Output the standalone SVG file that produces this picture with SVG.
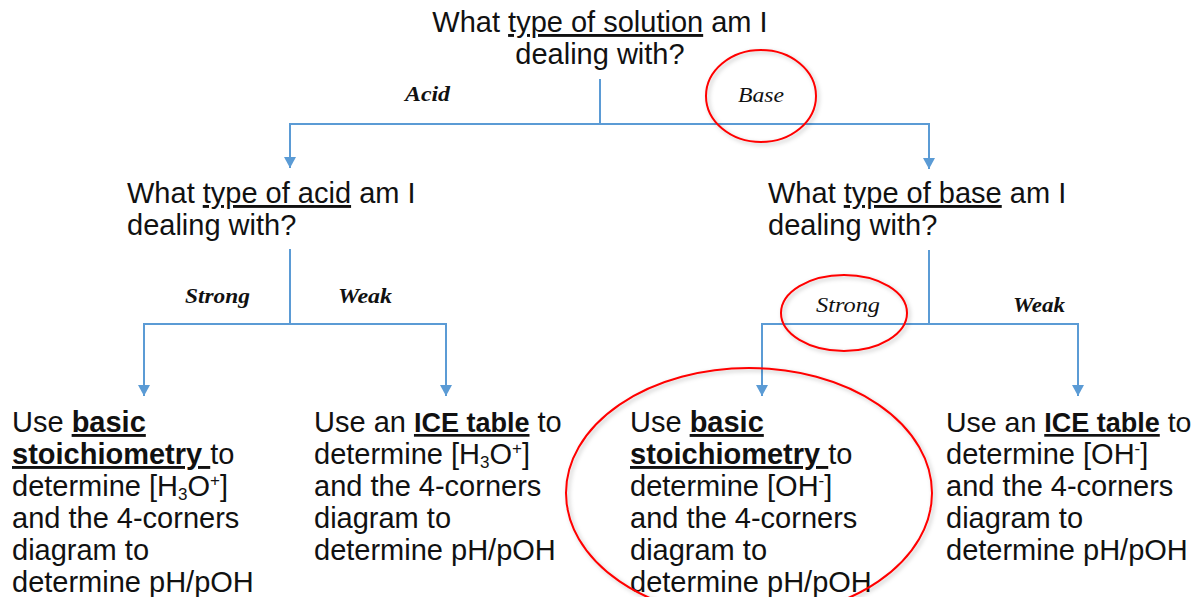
<svg xmlns="http://www.w3.org/2000/svg" width="1195" height="597" viewBox="0 0 1195 597">
<style>
.t{font-family:"Liberation Sans",Arial,sans-serif;font-size:29px;fill:#111}
.b{font-weight:bold;text-decoration:underline}
.bi{font-size:27px}
.u{text-decoration:underline}
.s{font-size:17px}
.lbl{font-family:"Liberation Serif","Times New Roman",serif;font-style:italic;font-size:20px;fill:#111}
.lb{font-weight:bold}
.con{fill:none;stroke:#5B9BD5;stroke-width:2}
.ring{fill:none;stroke:#FF0000;stroke-width:2}
</style>
<defs>
<marker id="ah" markerUnits="userSpaceOnUse" markerWidth="14" markerHeight="14" refX="11" refY="6" orient="auto">
<path d="M0,0 L11,6 L0,12 Z" fill="#5B9BD5"/>
</marker>
<filter id="sh" x="-10%" y="-10%" width="130%" height="130%">
<feDropShadow dx="2" dy="2" stdDeviation="2" flood-color="#000" flood-opacity="0.25"/>
</filter>
</defs>
<rect width="1195" height="597" fill="#fff"/>

<g id="connectors">
<path class="con" d="M600,79 V124"/>
<path class="con" d="M600,124 H290 V168" marker-end="url(#ah)"/>
<path class="con" d="M600,124 H929 V169" marker-end="url(#ah)"/>
<path class="con" d="M290,249 V324"/>
<path class="con" d="M290,324 H144 V396" marker-end="url(#ah)"/>
<path class="con" d="M290,324 H446 V396" marker-end="url(#ah)"/>
<path class="con" d="M929,250 V324"/>
<path class="con" d="M929,324 H762 V396" marker-end="url(#ah)"/>
<path class="con" d="M929,324 H1078 V396" marker-end="url(#ah)"/>
</g>

<g id="q-solution">
<text class="t" x="600" y="32" text-anchor="middle">What <tspan class="u">type of solution</tspan> am I</text>
<text class="t" x="600" y="64" text-anchor="middle">dealing with?</text>
</g>

<g id="lbl-acid"><text class="lbl lb" x="405" y="101" textLength="45" lengthAdjust="spacingAndGlyphs">Acid</text></g>
<g id="lbl-base"><text class="lbl" x="738" y="102" textLength="46" lengthAdjust="spacingAndGlyphs">Base</text></g>

<g id="q-acid">
<text class="t" x="127" y="203">What <tspan class="u">type of acid</tspan> am I</text>
<text class="t" x="127" y="235">dealing with?</text>
</g>
<g id="q-base">
<text class="t" x="768" y="203">What <tspan class="u">type of base</tspan> am I</text>
<text class="t" x="768" y="235">dealing with?</text>
</g>

<g id="lbl-acid-strong"><text class="lbl lb" x="185" y="303" textLength="65" lengthAdjust="spacingAndGlyphs">Strong</text></g>
<g id="lbl-acid-weak"><text class="lbl lb" x="338" y="303" textLength="54" lengthAdjust="spacingAndGlyphs">Weak</text></g>
<g id="lbl-base-strong"><text class="lbl" x="816" y="312" textLength="64" lengthAdjust="spacingAndGlyphs">Strong</text></g>
<g id="lbl-base-weak"><text class="lbl lb" x="1013" y="312" textLength="52" lengthAdjust="spacingAndGlyphs">Weak</text></g>

<g id="acid-strong">
<text class="t" x="12" y="432">Use <tspan class="b">basic</tspan></text>
<text class="t" x="12" y="464" xml:space="preserve"><tspan class="b">stoichiometry </tspan>to</text>
<text class="t" x="12" y="496">determine [H<tspan class="s" dy="4">3</tspan><tspan dy="-4">O</tspan><tspan class="s" dy="-10">+</tspan><tspan dy="10">]</tspan></text>
<text class="t" x="12" y="528">and the 4-corners</text>
<text class="t" x="12" y="560">diagram to</text>
<text class="t" x="12" y="592">determine pH/pOH</text>
</g>

<g id="acid-weak">
<text class="t" x="314" y="432" font-size="28.5">Use an <tspan class="b bi">ICE table</tspan> to</text>
<text class="t" x="314" y="464">determine [H<tspan class="s" dy="4">3</tspan><tspan dy="-4">O</tspan><tspan class="s" dy="-10">+</tspan><tspan dy="10">]</tspan></text>
<text class="t" x="314" y="496">and the 4-corners</text>
<text class="t" x="314" y="528">diagram to</text>
<text class="t" x="314" y="560">determine pH/pOH</text>
</g>

<g id="base-strong">
<text class="t" x="630" y="432">Use <tspan class="b">basic</tspan></text>
<text class="t" x="630" y="464" xml:space="preserve"><tspan class="b">stoichiometry </tspan>to</text>
<text class="t" x="630" y="496">determine [OH<tspan class="s" dy="-10">-</tspan><tspan dy="10">]</tspan></text>
<text class="t" x="630" y="528">and the 4-corners</text>
<text class="t" x="630" y="560">diagram to</text>
<text class="t" x="630" y="592">determine pH/pOH</text>
</g>

<g id="base-weak">
<text class="t" x="946" y="432" style="font-size:28.5px">Use an <tspan class="b bi">ICE table</tspan> to</text>
<text class="t" x="946" y="464">determine [OH<tspan class="s" dy="-10">-</tspan><tspan dy="10">]</tspan></text>
<text class="t" x="946" y="496">and the 4-corners</text>
<text class="t" x="946" y="528">diagram to</text>
<text class="t" x="946" y="560">determine pH/pOH</text>
</g>

<g id="highlights" filter="url(#sh)">
<ellipse class="ring" cx="761" cy="96" rx="55" ry="46"/>
<ellipse class="ring" cx="844" cy="313" rx="63" ry="38"/>
<ellipse class="ring" cx="749" cy="493" rx="183" ry="125"/>
</g>
</svg>
